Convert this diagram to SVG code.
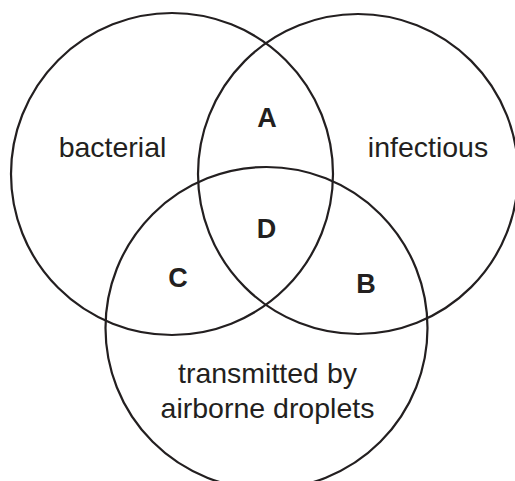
<svg xmlns="http://www.w3.org/2000/svg" width="515" height="481" viewBox="0 0 515 481">
<style>
.c{fill:none;stroke:#231f20;stroke-width:2.2}
.t{font-family:"Liberation Sans",Arial,sans-serif;font-size:28.5px;fill:#231f20;text-anchor:middle}
.b{font-family:"Liberation Sans",Arial,sans-serif;font-size:27px;font-weight:bold;fill:#231f20;text-anchor:middle}
</style>
<rect width="515" height="481" fill="#fff"/>
<g id="bacterial"><circle class="c" cx="172" cy="174" r="161"/><text class="t" x="112.5" y="157">bacterial</text></g>
<g id="infectious"><circle class="c" cx="358" cy="174" r="160"/><text class="t" x="428" y="157">infectious</text></g>
<g id="airborne"><circle class="c" cx="266.5" cy="328" r="161"/><text class="t" x="267.5" y="383">transmitted by</text><text class="t" x="267.5" y="418">airborne droplets</text></g>
<g id="A"><text class="b" x="267" y="127">A</text></g>
<g id="D"><text class="b" x="266.5" y="238">D</text></g>
<g id="C"><text class="b" x="178" y="287">C</text></g>
<g id="B"><text class="b" x="366" y="293">B</text></g>
<g id="connectors"/>
</svg>
